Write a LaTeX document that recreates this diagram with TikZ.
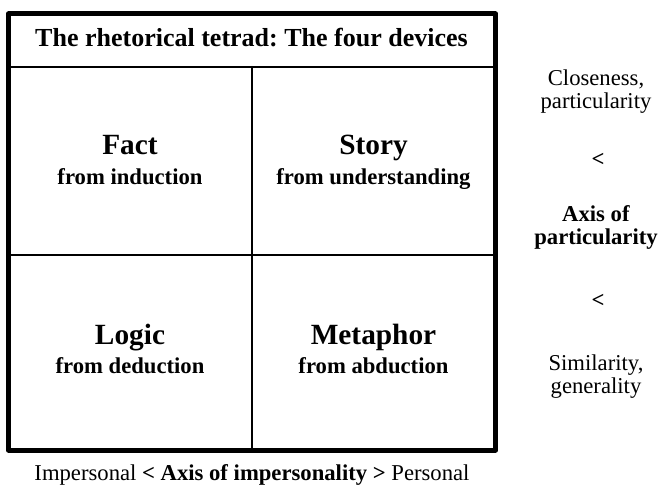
\documentclass[tikz,border=0pt]{standalone}
\usepackage{fontspec}
\setmainfont{Liberation Serif}
\usepackage{tkz-euclide}
\frenchspacing

\tikzset{
  titletext/.style={font=\bfseries\fontsize{19.5}{22}\selectfont, anchor=base},
  headtext/.style={font=\bfseries\fontsize{22}{26}\selectfont, anchor=base},
  subtext/.style={font=\bfseries\fontsize{17}{20}\selectfont, anchor=base},
  sidetext/.style={font=\fontsize{17}{17.5}\selectfont, align=center, anchor=base, inner sep=0pt},
}

\begin{document}
\begin{tikzpicture}[x=0.75pt, y=0.75pt]
    \useasboundingbox (0,0) rectangle (660,489);
    \tkzDefPoints{8.5/39/A,495.5/39/B,495.5/475/C,8.5/475/D}
    \tkzDefPoints{8.5/422/E,495.5/422/F,251.5/422/G,251.5/39/H,8.5/233.5/I,495.5/233.5/J}
    \tkzDrawSegments[line width=1.5pt](E,F G,H I,J) % inner grid
    \tkzDrawPolygon[line width=3.75pt](A,B,C,D)
    \node[titletext] (title) at (251.5,442) {The rhetorical tetrad: The four devices};
    \node[headtext] (fact) at (130,334) {Fact};
    \node[subtext] (factsub) at (130,304) {from induction};
    \node[headtext] (story) at (373.5,334) {Story};
    \node[subtext] (storysub) at (373.5,304) {from understanding};
    \node[headtext] (logic) at (130,144) {Logic};
    \node[subtext] (logicsub) at (130,115) {from deduction};
    \node[headtext] (metaphor) at (373.5,144) {Metaphor};
    \node[subtext] (metaphorsub) at (373.5,115) {from abduction};
    % axis of particularity
    \node[sidetext] (close) at (596,380) {Closeness,\\particularity};
    \node[sidetext] (lessa) at (598,322) {\textbf{<}};
    \node[sidetext] (axispart) at (596,244) {\textbf{Axis of}\\\textbf{particularity}};
    \node[sidetext] (lessb) at (598,181) {\textbf{<}};
    \node[sidetext] (similar) at (596,95) {Similarity,\\generality};
    % axis of impersonality
    \node[sidetext] (impers) at (252,9) {Impersonal \textbf{< Axis of impersonality >} Personal};
\end{tikzpicture}
\end{document}
